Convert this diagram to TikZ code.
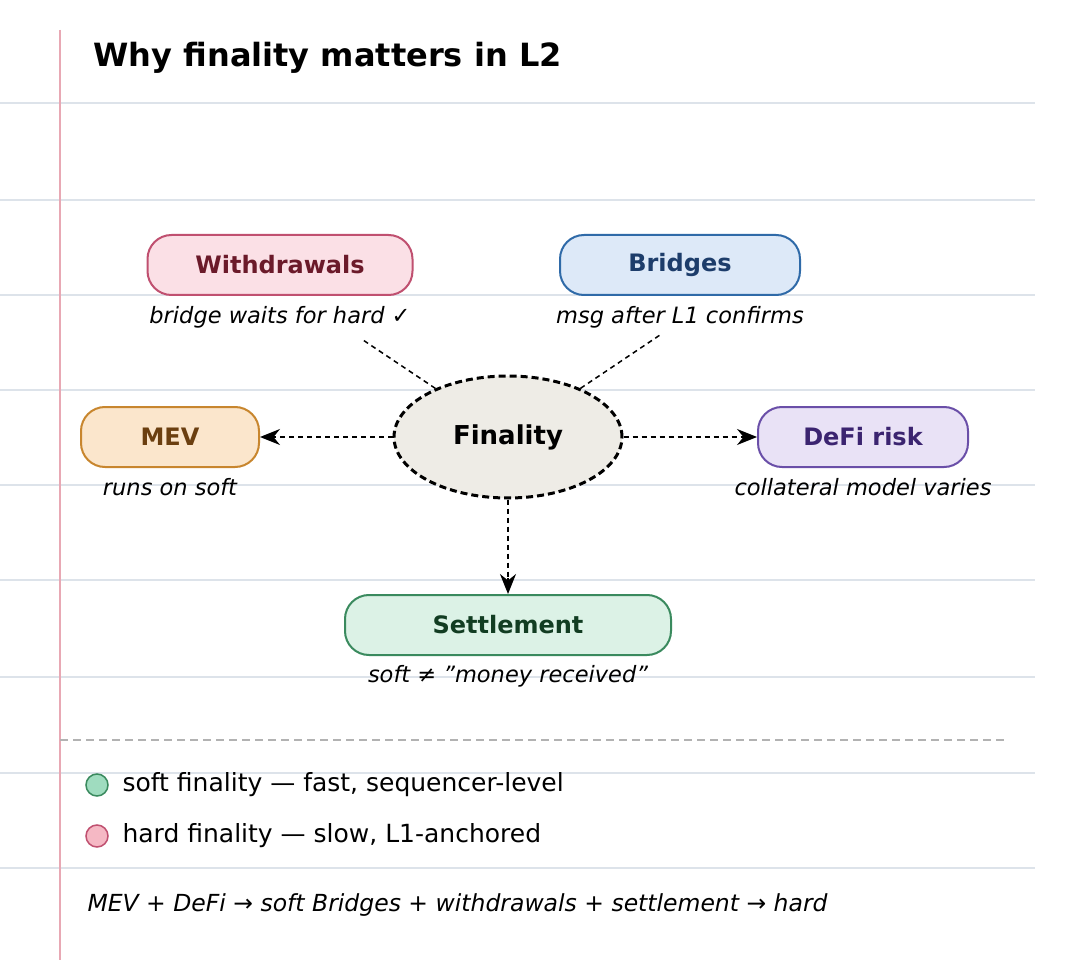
\documentclass[tikz,border=0pt]{standalone}
\usepackage{fontspec}
\setmainfont{DejaVu Sans}
\usetikzlibrary{shapes.geometric,arrows.meta}
\definecolor{rulecol}{HTML}{DDE3EA}
\definecolor{margincol}{HTML}{E8A8B4}
\definecolor{wdfill}{HTML}{FBE0E6}\definecolor{wddraw}{HTML}{C05070}\definecolor{wdtext}{HTML}{6B1A2A}
\definecolor{brfill}{HTML}{DDE9F8}\definecolor{brdraw}{HTML}{2F6AA8}\definecolor{brtext}{HTML}{1D3D6B}
\definecolor{mvfill}{HTML}{FBE6CC}\definecolor{mvdraw}{HTML}{C8862E}\definecolor{mvtext}{HTML}{6B3F10}
\definecolor{dffill}{HTML}{E9E2F6}\definecolor{dfdraw}{HTML}{6A4FA8}\definecolor{dftext}{HTML}{3B2470}
\definecolor{stfill}{HTML}{DCF2E6}\definecolor{stdraw}{HTML}{3A8A5E}\definecolor{sttext}{HTML}{123D22}
\definecolor{finfill}{HTML}{EEECE6}
\definecolor{softdotcol}{HTML}{9FDCBF}\definecolor{harddotcol}{HTML}{F5B8C4}
\begin{document}
\begin{tikzpicture}[font=\fontsize{25}{30}\selectfont]
    \tikzset{pill/.style={draw, line width=2pt, rounded corners=24pt, minimum height=60pt, font=\fontsize{24}{28}\selectfont\bfseries},
      note/.style={font=\fontsize{22.5}{27}\selectfont\itshape},
      link/.style={dash pattern=on 5pt off 4pt, line width=1.5pt},
      tip/.style={-{Stealth[length=20pt, width=16pt]}, line width=1.5pt}}
    \begin{scope}[x=1pt,y=-1pt]
    \useasboundingbox[fill=white] (0,0) rectangle (1072,960);
    % ruled paper
    \foreach \y in {103,200,295,390,485,580,677,773,868}
      \draw[rulecol, line width=1.3pt] (0,\y) -- (1035,\y);
    \draw[margincol, line width=1.2pt] (60,30) -- (60,960);
    \node[anchor=west, font=\fontsize{32}{38}\selectfont\bfseries] (title) at (90,58) {Why finality matters in L2};

    \node[ellipse, draw, dash pattern=on 7pt off 4pt, line width=3pt, fill=finfill, minimum width=228pt, minimum height=122pt,
      font=\fontsize{26}{30}\selectfont\bfseries] (fin) at (508,437) {Finality};
    \node[pill, fill=wdfill, draw=wddraw, text=wdtext, minimum width=265pt] (wd) at (280,265) {Withdrawals};
    \node[pill, fill=brfill, draw=brdraw, text=brtext, minimum width=240pt] (br) at (680,265) {Bridges};
    \node[pill, fill=mvfill, draw=mvdraw, text=mvtext, minimum width=178pt] (mev) at (170,437) {MEV};
    \node[pill, fill=dffill, draw=dfdraw, text=dftext, minimum width=210pt] (defi) at (863,437) {DeFi risk};
    \node[pill, fill=stfill, draw=stdraw, text=sttext, minimum width=326pt] (st) at (508,625) {Settlement};

    \node[note] (wdn) at (280,317) {bridge waits for hard ✓};
    \node[note] (brn) at (680,317) {msg after L1 confirms};
    \node[note] (mevn) at (170,487) {runs on soft};
    \node[note] (defin) at (863,487) {collateral model varies};
    \node[note] (stn) at (508,676) {soft ≠ "money received"};

    \coordinate (wdend) at (363,340);
    \coordinate (brend) at (660,335);
    \coordinate (mevtip) at (276,437);
    \coordinate (defitip) at (741,437);
    \coordinate (sttip) at (508,578);
    \draw[link] (fin) -- (wdend);
    \draw[link] (fin) -- (brend);
    \draw[link] (fin) -- (mevtip);
    \draw[link] (fin) -- (defitip);
    \draw[link] (fin) -- (sttip);
    \draw[tip] (mevtip) -- (mev);
    \draw[tip] (defitip) -- (defi);
    \draw[tip] (sttip) -- (st);

    % legend
    \draw[gray!60, dash pattern=on 8pt off 5pt, line width=1.5pt] (60,740) -- (1005,740);
    \node[circle, draw=stdraw, fill=softdotcol, line width=1.5pt, minimum size=22pt, inner sep=0pt] (softdot) at (97,785) {};
    \node[anchor=west] (softtxt) at (119,785) {soft finality — fast, sequencer-level};
    \node[circle, draw=wddraw, fill=harddotcol, line width=1.5pt, minimum size=22pt, inner sep=0pt] (harddot) at (97,836) {};
    \node[anchor=west] (hardtxt) at (119,836) {hard finality — slow, L1-anchored};
    \node[anchor=west, note, font=\fontsize{23.5}{28}\selectfont\itshape] (foot) at (84,905) {MEV + DeFi → soft Bridges + withdrawals + settlement → hard};
    \end{scope}
  \end{tikzpicture}
\end{document}
